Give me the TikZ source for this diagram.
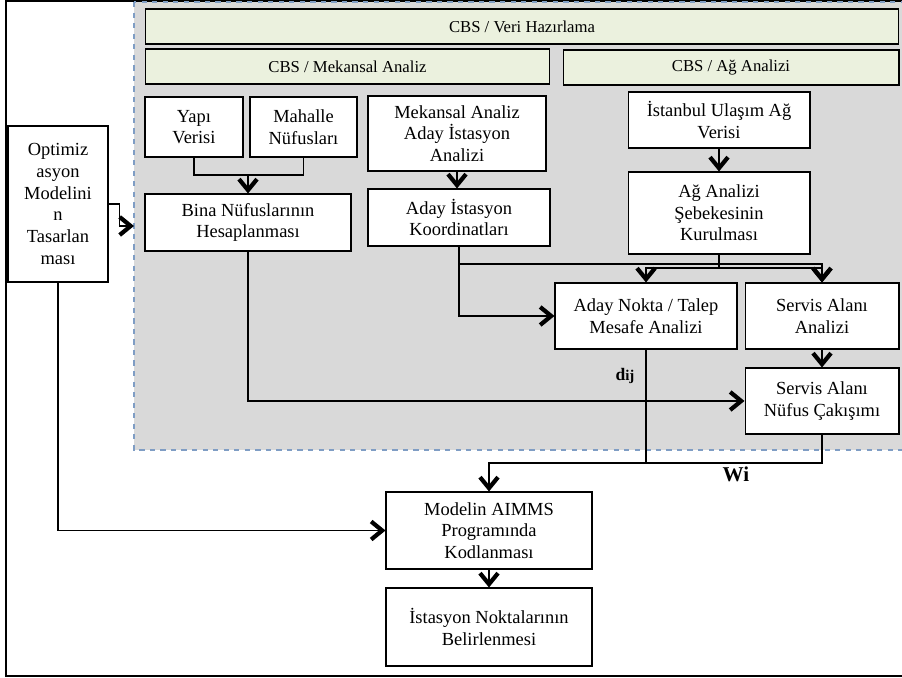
\documentclass[tikz,border=0pt]{standalone}
\usepackage{fontspec}
\setmainfont{Liberation Serif}
\usetikzlibrary{arrows.meta}
\definecolor{hdrgreen}{HTML}{EBF1DE}
\definecolor{gisgrey}{HTML}{D9D9D9}
\definecolor{gisedge}{HTML}{7F9DC4}
\tikzset{
    box/.style = {draw,fill=white,line width=0.6pt,align=center,inner sep=1pt,
        font=\fontsize{10.5}{12.3}\selectfont},
    hdr/.style = {box,fill=hdrgreen,font=\fontsize{9.5}{11}\selectfont},
    gisarea/.style = {fill=gisgrey,draw=gisedge,dashed,line width=0.6pt},
    link/.style = {line width=0.6pt},
    flow/.style = {link,-{Straight Barb[length=2.2mm,width=3.6mm,line width=2.4pt]}},
    lbl/.style = {font=\bfseries\fontsize{10}{12}\selectfont}
}
\begin{document}
\begin{tikzpicture}[x=0.02cm,y=-0.02cm]
        \newcommand\bw{3.64cm}
        \newcommand\hh{0.70cm}
        \useasboundingbox (0,0) rectangle (902,678);
        % Frame and GIS area
        \draw[line width=0.8pt] (6,1) rectangle (906,676);
        \path[gisarea] (134,2) rectangle (910,450);
        \coordinate (gisin) at (134,226);
        % Headers
        \node[hdr,minimum width=15.08cm,minimum height=\hh] (veri) at (522,26.5) {CBS / Veri Hazırlama};
        \node[hdr,minimum width=8.10cm,minimum height=\hh] (mekan) at (347.5,66.5) {CBS / Mekansal Analiz};
        \node[hdr,minimum width=6.72cm,minimum height=\hh] (agan) at (731,67.5) {CBS / Ağ Analizi};
        % Spatial analysis
        \node[box,minimum width=1.96cm,minimum height=1.20cm] (yapi) at (194,127) {Yapı\\Verisi};
        \node[box,minimum width=2.14cm,minimum height=1.20cm] (mahalle) at (303.5,127) {Mahalle\\Nüfusları};
        \node[box,minimum width=3.56cm,minimum height=1.50cm] (mekaday) at (457,133.5)
            {Mekansal Analiz\\Aday İstasyon\\Analizi};
        \node[box,minimum width=\bw,minimum height=1.14cm] (koord) at (459,217.5) {Aday İstasyon\\Koordinatları};
        \node[box,minimum width=4.12cm,minimum height=1.14cm] (bina) at (248,222.5)
            {Bina Nüfuslarının\\Hesaplanması};
        % Network analysis
        \node[box,minimum width=\bw,minimum height=1.12cm] (ulasim) at (719,120) {İstanbul Ulaşım Ağ\\Verisi};
        \node[box,minimum width=\bw,minimum height=1.64cm] (agkur) at (719,213)
            {Ağ Analizi\\Şebekesinin\\Kurulması};
        \node[box,minimum width=\bw,minimum height=1.32cm] (aday) at (646,316)
            {Aday Nokta / Talep\\Mesafe Analizi};
        \node[box,minimum width=3.08cm,minimum height=1.32cm] (servis) at (822,316) {Servis Alanı\\Analizi};
        \node[box,minimum width=3.08cm,minimum height=1.32cm] (nufus) at (822,401)
            {Servis Alanı\\Nüfus Çakışımı};
        % Model
        \node[box,minimum width=2.00cm,minimum height=3.12cm] (opt) at (58,204)
            {Optimiz\\asyon\\Modelini\\n\\Tasarlan\\ması};
        \node[box,minimum width=4.12cm,minimum height=1.54cm] (aimms) at (489,530.5)
            {Modelin AIMMS\\Programında\\Kodlanması};
        \node[box,minimum width=4.12cm,minimum height=1.56cm] (ist) at (489,627)
            {İstasyon Noktalarının\\Belirlenmesi};
        % Labels
        \node[lbl] (dij) at (625,376) {d{\fontsize{8.5}{10}\selectfont ij}};
        \node[lbl,font=\bfseries\fontsize{12}{14}\selectfont] (wi) at (736,474) {Wi};
        % Junctions
        \coordinate (j1) at (248,175);
        \coordinate (j2) at (822,264);
        \coordinate (j3) at (719,268);
        \coordinate (j4) at (489,463);
        % Connectors
        \draw[link] (yapi.south) |- (j1) -| (mahalle.south);
        \draw[flow] (j1) -- (bina.north);
        \draw[flow] (opt.east) -- ++(11,0) |- (gisin);
        \draw[flow] (opt.south) |- (aimms.west);
        \draw[flow] (mekaday.south) -- (mekaday.south |- koord.north);
        \draw[flow] (koord.south) |- (aday.west);
        \draw[flow] (koord.south) |- (j2) -- (servis.north);
        \draw[flow] (ulasim) -- (agkur);
        \draw[flow] (agkur.south) -- (j3) -| (aday.north);
        \draw[flow] (j3) -| (servis.north);
        \draw[flow] (bina.south) |- (nufus.west);
        \draw[flow] (servis) -- (nufus);
        \draw[link] (aday.south) -- (aday.south |- j4);
        \draw[flow] (nufus.south) |- (j4) -- (aimms.north);
        \draw[flow] (aimms) -- (ist);
\end{tikzpicture}
\end{document}
